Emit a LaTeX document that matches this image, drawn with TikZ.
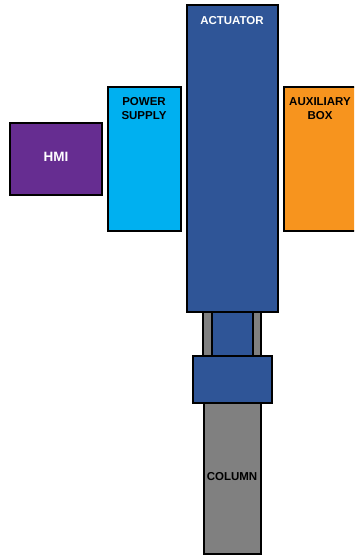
\documentclass[tikz,border=0pt]{standalone}
\usepackage{fontspec}
\setmainfont{Liberation Sans}
\definecolor{actblue}{HTML}{2F5597}
\definecolor{psblue}{HTML}{00B0F0}
\definecolor{hmipurple}{HTML}{662D91}
\definecolor{auxorange}{HTML}{F7941E}
\definecolor{colgray}{HTML}{808080}
\begin{document}
\begin{tikzpicture}[x=1pt,y=-1pt,
  part/.style={draw=black,line width=2.3pt},
  lbl/.style={font=\bfseries\fontsize{11.5}{14}\selectfont,align=center,inner sep=0pt}]
\clip (0,0) rectangle (354,555);
\useasboundingbox (0,0) rectangle (354,555);
% rails and neck
\path[part,fill=colgray] (203,308) rectangle (212,358);
\path[part,fill=colgray] (253,308) rectangle (261,358);
\path[fill=actblue] (213,308) rectangle (252,358);
% column
\path[part,fill=colgray] (204,401) rectangle (261,554);
% lower block
\path[part,fill=actblue] (193,356) rectangle (272,403);
% actuator
\path[part,fill=actblue] (187,5) rectangle (278,312);
% power supply
\path[part,fill=psblue] (108,87) rectangle (181,231);
% HMI
\path[part,fill=hmipurple] (10,123) rectangle (102,195);
% auxiliary box
\path[part,fill=auxorange] (284,87) rectangle (362,231);
% labels
\node[lbl,text=white] (act) at (232,21) {ACTUATOR};
\node[lbl] (ps) at (144,109) {POWER\\SUPPLY};
\node[lbl,text=white,font=\bfseries\fontsize{13.5}{16}\selectfont] (hmi) at (56,157) {HMI};
\node[lbl] (aux) at (320,109) {AUXILIARY\\BOX};
\node[lbl] (col) at (232,477) {COLUMN};
\end{tikzpicture}
\end{document}
